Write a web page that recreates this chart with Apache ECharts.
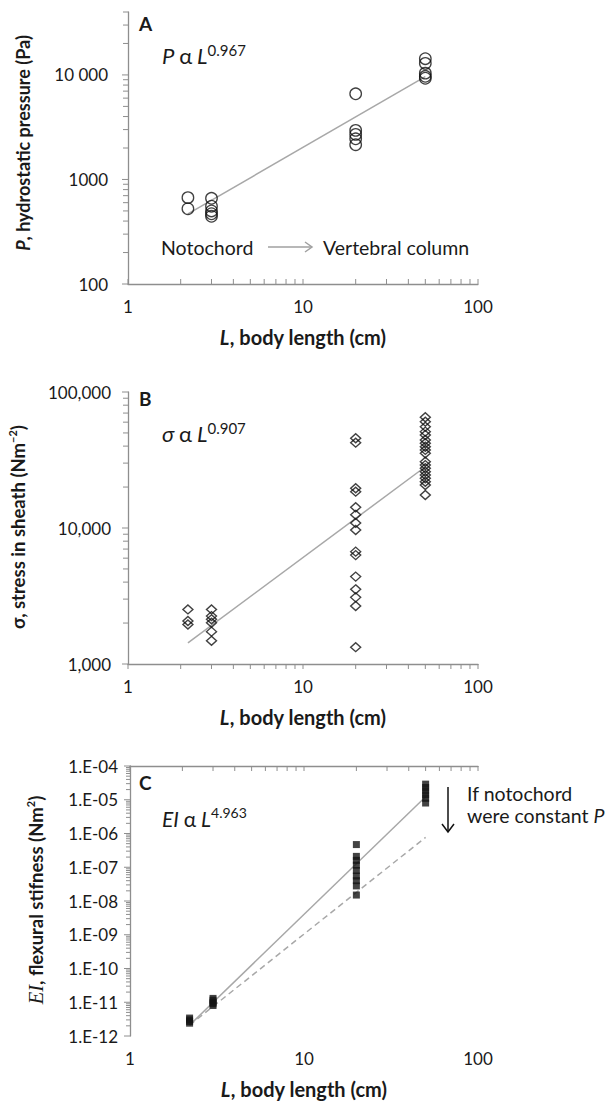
<!DOCTYPE html>
<html>
<head>
<meta charset="utf-8">
<script src="https://cdn.jsdelivr.net/npm/echarts@6/dist/echarts.min.js"></script>
<style>
  html, body { margin: 0; padding: 0; background: #fff; }
  #chart { width: 606px; height: 1102px; }
</style>
</head>
<body>
<div id="chart"></div>
<script>
// ---------------- DATA ----------------
const bodyLength = [2.2, 3, 20, 50];            // cm (x positions of the groups)

// Panel A: hydrostatic pressure (Pa)
const pressureAt22 = [670, 525];
const pressureAt3  = [660, 555, 500, 470, 445];
const pressureAt20 = [6600, 2950, 2700, 2450, 2150];
const pressureAt50 = [14300, 12900, 10400, 9700, 9300];
const pressureFit  = [[2.2, 468], [50, 9630]];

// Panel B: stress in sheath (N m^-2)
const stressAt22 = [2520, 2070, 1950];
const stressAt3  = [2520, 2250, 2130, 2010, 1730, 1480];
const stressAt20 = [45700, 42400, 19600, 18500, 14200, 12500, 10900, 9660, 6700, 6320, 4390, 3540, 3090, 2670, 1330];
const stressAt50 = [65200, 60500, 55600, 51100, 48300, 44400, 42000, 39600, 37500, 35400, 30700, 29000, 27500, 25900, 24500, 23200, 21900, 20700, 17500];
const stressFit  = [[2.2, 1430], [50, 28200]];

// Panel C: flexural stiffness (N m^2)
const stiffAt22 = [3.4e-12, 3.0e-12, 2.7e-12, 2.4e-12];
const stiffAt3  = [1.3e-11, 1.15e-11, 1.0e-11, 9e-12, 8e-12];
const stiffAt20 = [4.7e-7, 2.1e-7, 1.6e-7, 1.15e-7, 8e-8, 5.5e-8, 4e-8, 2.8e-8, 1.5e-8];
const stiffAt50 = [2.9e-5, 2.3e-5, 1.8e-5, 1.4e-5, 1.1e-5, 8e-6];
const stiffFit      = [[2.2, 2.1e-12], [50, 1.23e-5]];
const stiffConstP   = [[2.2, 2.1e-12], [50, 7.7e-7]];

// Axis ticks
const xMajor = [1, 10, 100];
const tickMultipliers = [2, 3, 4, 5, 6, 7, 8, 9];
const xDecades = [1, 10];
const yMajorA = [100, 1000, 10000];
const yDecadesA = [100, 1000, 10000];
const yMaxA = 40000;
const yMajorB = [1000, 10000, 100000];
const yDecadesB = [1000, 10000];
const yMajorC = [1e-12, 1e-11, 1e-10, 1e-9, 1e-8, 1e-7, 1e-6, 1e-5, 1e-4];
const yDecadesC = [1e-12, 1e-11, 1e-10, 1e-9, 1e-8, 1e-7, 1e-6, 1e-5];

// ---------------- HELPERS ----------------
const FONT = 'Lato';
const AXIS_COLOR = '#8e8e8e';
const TEXT_COLOR = '#1a1a1a';
const FIT_COLOR = '#a8a8a8';

function minorOf(decades, maxV) {
  const out = [];
  decades.forEach(d => tickMultipliers.forEach(m => {
    const v = d * m;
    if (maxV === undefined || v <= maxV * 1.0000001) out.push(v);
  }));
  return out;
}
function groupPoints(xs, groups) {
  const pts = [];
  groups.forEach((g, i) => g.forEach(v => pts.push([xs[i], v])));
  return pts;
}
function isPow10(v) {
  const l = Math.log10(v);
  return Math.abs(l - Math.round(l)) < 1e-6;
}
function tickSeries(xi, yi, pts, dx, dy) {
  return {
    type: 'custom', xAxisIndex: xi, yAxisIndex: yi, silent: true, clip: false, z: 1,
    data: pts,
    renderItem: function (params, api) {
      const p = api.coord([api.value(0), api.value(1)]);
      return {
        type: 'line',
        shape: { x1: p[0], y1: p[1], x2: p[0] + dx, y2: p[1] + dy },
        style: { stroke: AXIS_COLOR, lineWidth: 1 }
      };
    }
  };
}
function fitSeries(xi, yi, data, dashed) {
  return {
    type: 'line', xAxisIndex: xi, yAxisIndex: yi, data: data, silent: true,
    showSymbol: false, symbol: 'none', z: 2,
    lineStyle: { color: FIT_COLOR, width: 1.5, type: dashed ? [6, 4] : 'solid' }
  };
}
function axisLabelStyle(extra) {
  return Object.assign({ fontFamily: FONT, fontSize: 17, color: TEXT_COLOR }, extra);
}
const logX = (grid, extra) => Object.assign({
  type: 'log', logBase: 10, gridIndex: grid, min: 1, max: 100,
  axisLine: { show: true, lineStyle: { color: AXIS_COLOR, width: 1.3 } },
  axisTick: { show: false }, splitLine: { show: false },
  axisLabel: axisLabelStyle({ margin: 14, formatter: v => isPow10(v) ? String(Math.round(v)) : '' })
}, extra);

const fmtA = v => {
  if (!isPow10(v)) return '';
  const n = Math.round(v);
  return n >= 10000 ? String(n).replace(/\B(?=(\d{3})+(?!\d))/g, ' ') : String(n);
};
const fmtB = v => isPow10(v) ? Math.round(v).toLocaleString('en-US') : '';
const fmtC = v => {
  if (!isPow10(v)) return '';
  const e = Math.round(Math.log10(v));
  const a = Math.abs(e);
  return '1.E' + (e < 0 ? '-' : '+') + (a < 10 ? '0' + a : a);
};

// ---------------- OPTION ----------------
const chart = echarts.init(document.getElementById('chart'), null, { renderer: 'svg', width: 606, height: 1102 });

const rich = (size) => ({
  i: { fontFamily: FONT, fontStyle: 'italic', fontSize: size, fill: TEXT_COLOR, lineHeight: size + 4 },
  n: { fontFamily: FONT, fontSize: size, fill: TEXT_COLOR, lineHeight: size + 4 },
  s: { fontFamily: FONT, fontSize: Math.round(size * 0.66), fill: TEXT_COLOR, verticalAlign: 'top', lineHeight: Math.round(size * 0.66) + 1 }
});
const titleRich = (size) => ({
  b: { fontFamily: FONT, fontWeight: 'bold', fontSize: size, fill: TEXT_COLOR, lineHeight: size + 4 },
  bi: { fontFamily: FONT, fontWeight: 'bold', fontStyle: 'italic', fontSize: size, fill: TEXT_COLOR, lineHeight: size + 4 },
  se: { fontFamily: 'Liberation Serif', fontStyle: 'italic', fontSize: size + 2, fill: TEXT_COLOR, lineHeight: size + 4 },
  bs: { fontFamily: FONT, fontWeight: 'bold', fontSize: Math.round(size * 0.62), fill: TEXT_COLOR, verticalAlign: 'top', lineHeight: Math.round(size * 0.62) + 1 }
});
function txt(x, y, text, opts) {
  return Object.assign({
    type: 'text', x: x, y: y, silent: true,
    style: Object.assign({ text: text, fill: TEXT_COLOR, fontFamily: FONT, fontSize: 19,
      align: 'left', verticalAlign: 'middle', textAlign: 'left', textVerticalAlign: 'middle' }, opts && opts.style)
  }, opts && opts.el);
}
const center = { align: 'center', textAlign: 'center' };
const xTitle = '{bi|L}{b|, body length (cm)}';

const option = {
  animation: false,
  backgroundColor: '#fff',
  grid: [
    { left: 128, top: 12, width: 350, height: 272 },
    { left: 128, top: 392, width: 350, height: 272 },
    { left: 130, top: 766, width: 348, height: 270 }
  ],
  xAxis: [
    logX(0),
    logX(1),
    logX(2, { axisLine: { show: false } }),
    logX(2, { position: 'top', axisLabel: { show: false } })
  ],
  yAxis: [
    { type: 'log', logBase: 10, gridIndex: 0, min: 100, max: yMaxA,
      axisLine: { show: true, lineStyle: { color: AXIS_COLOR, width: 1.3 } },
      axisTick: { show: false }, splitLine: { show: false },
      axisLabel: axisLabelStyle({ margin: 20, formatter: fmtA }) },
    { type: 'log', logBase: 10, gridIndex: 1, min: 1000, max: 100000,
      axisLine: { show: true, lineStyle: { color: AXIS_COLOR, width: 1.3 } },
      axisTick: { show: false }, splitLine: { show: false },
      axisLabel: axisLabelStyle({ margin: 17, formatter: fmtB }) },
    { type: 'log', logBase: 10, gridIndex: 2, min: 1e-12, max: 1e-4,
      axisLine: { show: true, lineStyle: { color: AXIS_COLOR, width: 1.3 } },
      axisTick: { show: false }, splitLine: { show: false },
      axisLabel: axisLabelStyle({ margin: 12, formatter: fmtC }) }
  ],
  series: [
    // ---- ticks panel A
    tickSeries(0, 0, minorOf(yDecadesA, yMaxA).map(v => [1, v]), -5, 0),
    tickSeries(0, 0, yMajorA.map(v => [1, v]), -6, 0),
    tickSeries(0, 0, minorOf(xDecades).concat(xMajor).map(v => [v, 100]), 0, -5),
    // ---- ticks panel B
    tickSeries(1, 1, minorOf(yDecadesB).map(v => [1, v]), -5, 0),
    tickSeries(1, 1, yMajorB.map(v => [1, v]), -6, 0),
    tickSeries(1, 1, minorOf(xDecades).concat(xMajor).map(v => [v, 1000]), 0, 5),
    // ---- ticks panel C
    tickSeries(2, 2, minorOf(yDecadesC).map(v => [1, v]), -4, 0),
    tickSeries(2, 2, yMajorC.map(v => [1, v]), -6, 0),
    tickSeries(3, 2, minorOf(xDecades).concat(xMajor).map(v => [v, 1e-4]), 0, 5),

    // ---- panel A
    fitSeries(0, 0, pressureFit, false),
    { type: 'scatter', xAxisIndex: 0, yAxisIndex: 0, silent: true, z: 3,
      data: groupPoints(bodyLength, [pressureAt22, pressureAt3, pressureAt20, pressureAt50]),
      symbol: 'circle', symbolSize: 11.5,
      itemStyle: { color: 'rgba(0,0,0,0)', borderColor: '#111', borderWidth: 1.3 } },

    // ---- panel B
    fitSeries(1, 1, stressFit, false),
    { type: 'scatter', xAxisIndex: 1, yAxisIndex: 1, silent: true, z: 3,
      data: groupPoints(bodyLength, [stressAt22, stressAt3, stressAt20, stressAt50]),
      symbol: 'diamond', symbolSize: [10, 9],
      itemStyle: { color: 'rgba(0,0,0,0)', borderColor: '#111', borderWidth: 1.4 } },

    // ---- panel C
    fitSeries(2, 2, stiffFit, false),
    fitSeries(2, 2, stiffConstP, true),
    { type: 'scatter', xAxisIndex: 2, yAxisIndex: 2, silent: true, z: 3,
      data: groupPoints(bodyLength, [stiffAt22, stiffAt3, stiffAt20, stiffAt50]),
      symbol: 'rect', symbolSize: [7, 7],
      itemStyle: { color: '#141414' } }
  ],
  graphic: [
    // panel letters
    txt(139, 23, 'A', { style: { fontWeight: 'bold', fontSize: 19 } }),
    txt(139, 398, 'B', { style: { fontWeight: 'bold', fontSize: 19 } }),
    txt(139, 782, 'C', { style: { fontWeight: 'bold', fontSize: 19 } }),

    // formulas
    txt(162, 55, '{i|P} {n|α} {i|L}{s|0.967}', { style: { rich: rich(22) } }),
    txt(162, 433, '{i|σ} {n|α} {i|L}{s|0.907}', { style: { rich: rich(22) } }),
    txt(162, 818, '{i|EI} {n|α} {i|L}{s|4.963}', { style: { rich: rich(21) } }),

    // panel A annotation
    txt(161, 247, 'Notochord', { style: { fontSize: 19.5 } }),
    { type: 'line', silent: true, shape: { x1: 268, y1: 247, x2: 312, y2: 247 }, style: { stroke: '#a0a0a0', lineWidth: 1.5 } },
    { type: 'polyline', silent: true, shape: { points: [[305, 242], [312, 247], [305, 252]] }, style: { stroke: '#a0a0a0', lineWidth: 1.5, fill: null } },
    txt(323, 247, 'Vertebral column', { style: { fontSize: 19.5 } }),

    // panel C annotation
    { type: 'line', silent: true, shape: { x1: 448, y1: 787, x2: 448, y2: 832 }, style: { stroke: '#111', lineWidth: 1.5 } },
    { type: 'polyline', silent: true, shape: { points: [[442, 824], [448, 832], [454, 824]] }, style: { stroke: '#111', lineWidth: 1.5, fill: null } },
    txt(467, 793, 'If notochord', { style: { fontSize: 19.5 } }),
    txt(467, 815, '{n|were constant }{i|P}', { style: { rich: { n: { fontFamily: FONT, fontSize: 19.5, fill: TEXT_COLOR }, i: { fontFamily: FONT, fontSize: 19.5, fontStyle: 'italic', fill: TEXT_COLOR } } } }),

    // axis titles (x)
    txt(303, 337, xTitle, { style: Object.assign({ rich: titleRich(20) }, center) }),
    txt(303, 717, xTitle, { style: Object.assign({ rich: titleRich(20) }, center) }),
    txt(304, 1089, xTitle, { style: Object.assign({ rich: titleRich(20) }, center) }),

    // axis titles (y, rotated)
    txt(23, 143, '{bi|P}{b|, hydrostatic pressure (Pa)}', { style: Object.assign({ rich: titleRich(18) }, center), el: { rotation: Math.PI / 2 } }),
    txt(18, 527, '{b|σ, stress in sheath (Nm}{bs|−2}{b|)}', { style: Object.assign({ rich: titleRich(18.5) }, center), el: { rotation: Math.PI / 2 } }),
    txt(36, 900, '{se|EI}{b|, flexural stifness (Nm}{bs|2}{b|)}', { style: Object.assign({ rich: titleRich(18.5) }, center), el: { rotation: Math.PI / 2 } })
  ]
};

chart.setOption(option);
</script>
</body>
</html>
